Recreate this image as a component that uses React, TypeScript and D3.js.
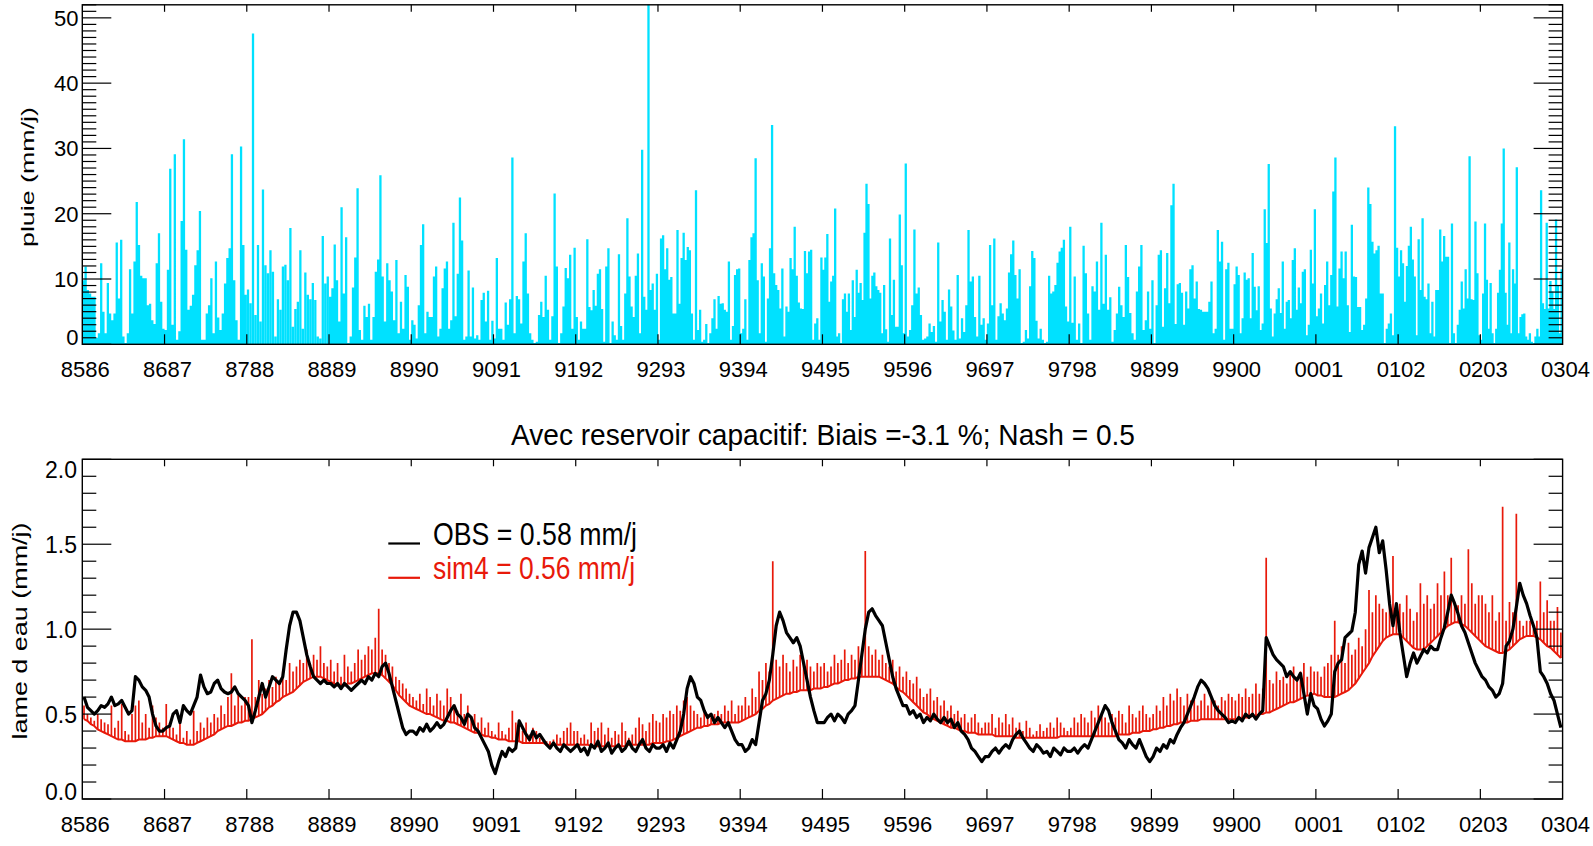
import React, { useEffect, useRef } from "react";
import * as d3 from "d3";

// Hydrological years on the time axis (one tick per year boundary)
const yearLabels = [
  "8586", "8687", "8788", "8889", "8990", "9091", "9192", "9293", "9394", "9495",
  "9596", "9697", "9798", "9899", "9900", "0001", "0102", "0203", "0304",
];

// Rainfall (mm/j): readings spread evenly through each hydrological year
const rain: number[][] = [
  [9.8, 11.9, 8.3, 7.8, 7.3, 7.3, 1, 1.7, 12.4, 5, 1.7, 9.4, 4.7, 3.7, 4.7, 15.6, 7, 16, 1.2, 0.2, 1.7, 11.5, 4.7, 12.7, 21.8, 15.2, 10.5, 10.1, 10.1, 6, 6.2, 3.7, 3.1, 12.4, 17, 6.5, 2.4],
  [2.2, 11.4, 26.9, 3, 29.1, 0.7, 2, 18.9, 31.4, 14.5, 5.3, 5.9, 7.6, 12.1, 14.4, 20.4, 0.7, 0.7, 4.7, 6, 10.1, 1.7, 12.7, 4.1, 2.2, 4.7, 9.3, 13.2, 14.7, 29.1, 9.8, 3.7, 0.7, 30.3, 15.2, 7.6],
  [8.4, 6.3, 47.6, 4.5, 15.2, 3.5, 23.7, 12.1, 10.9, 14.4, 11.1, 1.2, 6.9, 5.3, 11.9, 12.2, 9.8, 17.8, 2.7, 5.4, 6.5, 14.4, 2.4, 11, 7.6, 6.9, 9.4, 6.8, 1.2, 0.9, 16.6, 9.3, 10.4],
  [7.3, 8.6, 15.3, 9.8, 3.5, 21, 7.8, 16.4, 0.2, 1.2, 8.7, 13.3, 23.9, 2.2, 0.7, 5.9, 4.2, 6.2, 0.7, 4.2, 11.1, 13, 25.9, 10.4, 3.5, 12.4, 9.8, 8.1, 3.7, 12.9, 1.7, 6.5, 2.4, 10.6, 8.8, 0.7],
  [3.7, 3, 0.9, 6, 15.2, 18.4, 1.7, 5, 4.2, 4.2, 10.4, 11.9, 1.2, 2.4, 8.6, 11.6, 12.7, 2.4, 3.7, 18.6, 4.3, 10.8, 22.5, 15.9, 0.7, 1.2, 11.3, 1.2, 8.7, 0.9, 1.4, 0.7, 6.8, 7.9, 3.5, 8.2, 0.7, 3.6],
  [0.9, 13.2, 2.4, 2.4, 0.7, 6.4, 3, 6.9, 28.6, 1.7, 7.4, 6.9, 3.2, 12.7, 17, 7.8, 1.7, 0.7, 0.2, 0.4, 4.5, 6.5, 4.2, 10.5, 5.3, 0.7, 4.3, 23.1, 11.9, 0.2, 1.7, 5.8, 11.7, 10.1, 13.7, 2.4, 14.8],
  [4.2, 0.7, 3.5, 2.4, 2.4, 16.1, 5.7, 5.2, 8.3, 5.9, 10.8, 11.5, 5.4, 0.4, 11.9, 14.7, 0.2, 3.5, 1.4, 0.7, 13.8, 2.8, 0.7, 7.8, 19.3, 10.4, 5.8, 4.2, 10.5, 13.9, 1.7, 29.8, 7.3, 5.3, 56, 8.3, 9.3, 5.3, 10.8],
  [0.7, 16.2, 16.7, 11.5, 14.7, 9.9, 10.3, 4.7, 4.7, 17.5, 6.2, 13.2, 17.1, 12.9, 14.9, 14.4, 4.7, 0.7, 23.6, 2.2, 5.3, 0.4, 0.7, 3.1, 0.2, 1.7, 4, 6.9, 2.4, 7.4, 6.2, 6.3, 5.3, 5, 12.7, 0.7, 2.8, 10.6, 11.5, 11.6],
  [1.7, 2.4, 6.9, 0.7, 12.9, 16.4, 17, 28.5, 9.8, 1.7, 12.4, 10.4, 0.4, 7, 14.7, 33.6, 10.9, 9.1, 8.3, 5.5, 11.6, 1.2, 5.8, 5, 13.2, 11.5, 18, 10.5, 6.4, 5.5, 5.4, 14.3, 10.9, 14.2, 14.5, 0.7, 3.2, 4, 0.7, 13.3],
  [11.4, 13.3, 16.9, 6.5, 9.6, 10.5, 20.8, 1.2, 1.7, 0.2, 6.9, 7.8, 5, 7.8, 2.2, 9.8, 4.2, 11.4, 7.9, 9.4, 6.8, 17.1, 24.6, 21.5, 7, 10.5, 11, 8.9, 8.3, 7.9, 1.7, 9.1, 2.3, 0.4, 16.2, 4.5, 9.9, 2.7, 2.7, 19.9, 12.1, 1.7],
  [27.7, 1.2, 2.2, 6, 17.6, 7.8, 8.7, 4.5, 0.7, 0.9, 1.2, 3.2, 1.9, 2.8, 0.4, 15.6, 3.5, 6.8, 5, 0.7, 8.4, 5.8, 2.1, 0.7, 10.6, 0.9, 4, 1.9, 6, 17.5, 9.6, 10.4, 4.2, 1.2, 10.5, 3, 4, 0.7],
  [3.2, 15.2, 6, 16.2, 0.7, 4.3, 6.3, 4.7, 3.7, 5.5, 11, 13.8, 15.9, 10.6, 7, 11.5, 0.2, 0.4, 2.2, 0.9, 8.9, 14.3, 13.2, 3.6, 0.9, 2.4, 0.7, 0.2, 0.4, 10.5, 7.8, 8.1, 9.1, 12.5, 14.2, 14.8, 16, 5.8, 3.5],
  [18, 3.3, 10.4, 0.7, 3.2, 0.2, 15.1, 10.9, 4.7, 0.7, 8.9, 8.1, 12.7, 5.3, 18.6, 6.2, 13.7, 5.3, 7.2, 0.4, 2.2, 4.7, 8.8, 6, 4.2, 15.2, 10.3, 4.8, 1.7, 0.7, 8.1, 11.9, 15.2, 2.2, 3.7, 8.1, 2.4],
  [9.8, 0.2, 6, 13.7, 14.4, 2.7, 8.6, 14, 6.3, 21.3, 24.6, 3.1, 9.2, 9.4, 7.9, 3, 8.1, 5.5, 11.5, 12.1, 7, 9.6, 5.4, 5.3, 5, 5, 5, 6.5, 9.6, 1.7, 2.4, 17.5, 12.7, 15.7, 0.7, 11.5, 12.5, 2.4, 2.4],
  [9.2, 11.9, 10.6, 1.7, 4, 11, 9.9, 10.1, 4, 14, 8.8, 5.2, 8.9, 2.2, 3.2, 20.7, 15.5, 27.6, 5.5, 1.2, 4.7, 6.9, 8.6, 4.8, 12.7, 2.4, 6.5, 6.8, 4, 12.9, 14.7, 5.3, 8.7, 6.3, 11.1, 11.5, 1.4, 3, 14.5, 9.3, 20.7],
  [4.3, 5.5, 7.8, 3.2, 9.1, 12.7, 6, 10.6, 23.4, 28.6, 5.8, 11.6, 14.2, 10.1, 14.2, 6, 1.9, 18.3, 10.4, 10.3, 5.7, 5.7, 2.2, 3, 7, 24, 21.5, 15.7, 13.9, 14.4, 15.1, 7.8, 7.8, 0.2, 2.4, 3.2, 4.7, 1.4, 33.4, 14.8],
  [10.4, 14.4, 12.4, 6.5, 12, 15.1, 18, 13, 10.4, 1.4, 16.1, 8.3, 19.3, 7.3, 6.9, 9.3, 1.7, 6.5, 1.2, 8.3, 8.3, 17.6, 12.7, 16.6, 13.4, 13.4, 0.2, 18.5, 1.7, 0.2, 3, 5.3, 9.6, 5.5, 11.5, 7, 28.8, 6.9, 6.8, 18.8, 10.9, 1.4],
  [0.7, 7.8, 18.5, 9.9, 2.4, 9.4, 1.7, 0.2, 2.4, 7.9, 11.4, 18.5, 30, 7.9, 3, 15.6, 1.7, 11.5, 9.3, 27.1, 1.7, 4.2, 4.6, 4.7, 1.2, 0.7, 1.7, 0.4, 0.2, 1.2, 2.4, 1.2, 23.6, 6.3, 5.4, 18.6, 5.5, 9.7, 8.1, 5.4, 19.1, 9.1, 1.7, 11.5],
];

// Observed runoff (mm/j), 24 readings per year
const obsFlow: number[][] = [
  [0.6, 0.54, 0.52, 0.5, 0.52, 0.55, 0.54, 0.56, 0.6, 0.55, 0.56, 0.58, 0.54, 0.5, 0.52, 0.72, 0.7, 0.66, 0.64, 0.6, 0.5, 0.43, 0.4, 0.4],
  [0.42, 0.43, 0.5, 0.52, 0.45, 0.55, 0.52, 0.5, 0.55, 0.6, 0.73, 0.66, 0.62, 0.63, 0.68, 0.7, 0.65, 0.63, 0.62, 0.63, 0.66, 0.62, 0.6, 0.58],
  [0.55, 0.45, 0.52, 0.6, 0.68, 0.6, 0.66, 0.72, 0.7, 0.68, 0.72, 0.88, 1.02, 1.1, 1.1, 1.05, 0.95, 0.85, 0.78, 0.72, 0.7, 0.68, 0.7, 0.68],
  [0.68, 0.66, 0.68, 0.65, 0.68, 0.66, 0.64, 0.66, 0.68, 0.7, 0.68, 0.72, 0.7, 0.74, 0.72, 0.78, 0.8, 0.74, 0.66, 0.58, 0.5, 0.42, 0.38, 0.4],
  [0.4, 0.38, 0.42, 0.4, 0.44, 0.4, 0.42, 0.45, 0.42, 0.44, 0.48, 0.52, 0.55, 0.5, 0.48, 0.44, 0.5, 0.48, 0.42, 0.4, 0.36, 0.32, 0.28, 0.2],
  [0.15, 0.22, 0.28, 0.25, 0.3, 0.28, 0.3, 0.46, 0.42, 0.38, 0.35, 0.4, 0.36, 0.38, 0.35, 0.32, 0.3, 0.33, 0.3, 0.28, 0.32, 0.3, 0.28, 0.3],
  [0.32, 0.28, 0.3, 0.26, 0.32, 0.3, 0.34, 0.28, 0.3, 0.33, 0.27, 0.3, 0.32, 0.28, 0.3, 0.34, 0.3, 0.28, 0.32, 0.35, 0.3, 0.28, 0.32, 0.3],
  [0.3, 0.32, 0.28, 0.33, 0.3, 0.35, 0.4, 0.5, 0.65, 0.72, 0.68, 0.6, 0.58, 0.52, 0.48, 0.5, 0.45, 0.48, 0.45, 0.42, 0.45, 0.4, 0.35, 0.32],
  [0.32, 0.28, 0.3, 0.35, 0.32, 0.45, 0.58, 0.62, 0.7, 0.85, 1.02, 1.1, 1.05, 0.98, 0.95, 0.92, 0.95, 0.9, 0.8, 0.7, 0.6, 0.52, 0.45, 0.45],
  [0.45, 0.48, 0.5, 0.46, 0.5, 0.48, 0.45, 0.5, 0.52, 0.55, 0.7, 0.85, 1.0, 1.1, 1.12, 1.08, 1.05, 1.02, 0.92, 0.82, 0.72, 0.65, 0.6, 0.55],
  [0.55, 0.5, 0.52, 0.48, 0.5, 0.45, 0.48, 0.46, 0.5, 0.47, 0.45, 0.48, 0.45, 0.47, 0.42, 0.45, 0.4, 0.38, 0.35, 0.3, 0.28, 0.25, 0.22, 0.25],
  [0.25, 0.28, 0.3, 0.27, 0.3, 0.32, 0.3, 0.35, 0.38, 0.4, 0.36, 0.33, 0.3, 0.28, 0.32, 0.3, 0.27, 0.28, 0.25, 0.3, 0.28, 0.26, 0.3, 0.28],
  [0.28, 0.3, 0.27, 0.3, 0.32, 0.3, 0.35, 0.4, 0.45, 0.5, 0.55, 0.52, 0.45, 0.4, 0.35, 0.33, 0.3, 0.35, 0.32, 0.3, 0.35, 0.3, 0.25, 0.22],
  [0.25, 0.3, 0.28, 0.32, 0.3, 0.35, 0.33, 0.38, 0.42, 0.45, 0.5, 0.55, 0.6, 0.66, 0.7, 0.68, 0.65, 0.6, 0.55, 0.52, 0.5, 0.48, 0.45, 0.46],
  [0.45, 0.48, 0.46, 0.5, 0.48, 0.5, 0.47, 0.5, 0.52, 0.95, 0.9, 0.85, 0.82, 0.8, 0.78, 0.72, 0.75, 0.72, 0.7, 0.74, 0.62, 0.5, 0.62, 0.55],
  [0.53, 0.47, 0.43, 0.46, 0.5, 0.75, 0.8, 0.82, 0.95, 0.97, 0.99, 1.1, 1.38, 1.46, 1.33, 1.48, 1.54, 1.6, 1.45, 1.52, 1.35, 1.15, 1.02, 1.15],
  [0.98, 0.85, 0.72, 0.8, 0.86, 0.8, 0.84, 0.88, 0.86, 0.9, 0.88, 0.88, 0.95, 1.01, 1.1, 1.2, 1.15, 1.09, 1.02, 0.98, 0.92, 0.86, 0.8, 0.76],
  [0.72, 0.7, 0.66, 0.64, 0.6, 0.62, 0.68, 0.9, 0.93, 1.0, 1.13, 1.27, 1.2, 1.15, 1.08, 1.02, 0.95, 0.75, 0.72, 0.68, 0.62, 0.58, 0.5, 0.42],
];

// Simulated runoff (mm/j), 24 readings per year: recession floor ...
const simLow: number[][] = [
  [0.47, 0.46, 0.44, 0.43, 0.41, 0.4, 0.39, 0.38, 0.37, 0.36, 0.35, 0.35, 0.34, 0.34, 0.34, 0.34, 0.35, 0.35, 0.35, 0.36, 0.36, 0.37, 0.37, 0.37],
  [0.37, 0.36, 0.35, 0.34, 0.33, 0.33, 0.32, 0.32, 0.32, 0.33, 0.34, 0.35, 0.36, 0.37, 0.38, 0.4, 0.41, 0.42, 0.43, 0.43, 0.44, 0.45, 0.45, 0.46],
  [0.46, 0.47, 0.48, 0.49, 0.5, 0.52, 0.54, 0.55, 0.57, 0.58, 0.6, 0.61, 0.62, 0.63, 0.65, 0.67, 0.69, 0.7, 0.71, 0.72, 0.72, 0.72, 0.71, 0.7],
  [0.69, 0.68, 0.67, 0.67, 0.67, 0.68, 0.68, 0.69, 0.7, 0.71, 0.72, 0.73, 0.74, 0.74, 0.74, 0.73, 0.71, 0.69, 0.67, 0.64, 0.61, 0.59, 0.57, 0.55],
  [0.54, 0.53, 0.52, 0.51, 0.5, 0.5, 0.49, 0.48, 0.47, 0.46, 0.46, 0.45, 0.45, 0.44, 0.43, 0.42, 0.41, 0.4, 0.39, 0.39, 0.38, 0.37, 0.37, 0.36],
  [0.36, 0.35, 0.35, 0.35, 0.34, 0.34, 0.34, 0.34, 0.33, 0.33, 0.33, 0.33, 0.33, 0.33, 0.33, 0.32, 0.32, 0.32, 0.32, 0.32, 0.32, 0.32, 0.32, 0.32],
  [0.32, 0.32, 0.32, 0.32, 0.31, 0.31, 0.31, 0.31, 0.31, 0.31, 0.31, 0.31, 0.31, 0.31, 0.31, 0.32, 0.32, 0.32, 0.32, 0.32, 0.32, 0.32, 0.33, 0.33],
  [0.33, 0.33, 0.34, 0.34, 0.35, 0.36, 0.37, 0.38, 0.39, 0.4, 0.41, 0.42, 0.42, 0.43, 0.43, 0.44, 0.44, 0.44, 0.45, 0.45, 0.45, 0.45, 0.45, 0.45],
  [0.46, 0.47, 0.48, 0.49, 0.5, 0.52, 0.53, 0.55, 0.56, 0.58, 0.59, 0.6, 0.61, 0.62, 0.62, 0.63, 0.63, 0.64, 0.64, 0.64, 0.64, 0.65, 0.65, 0.65],
  [0.66, 0.66, 0.67, 0.68, 0.68, 0.69, 0.7, 0.7, 0.71, 0.71, 0.72, 0.72, 0.72, 0.72, 0.72, 0.72, 0.72, 0.71, 0.7, 0.69, 0.68, 0.66, 0.64, 0.63],
  [0.61, 0.59, 0.57, 0.55, 0.53, 0.51, 0.5, 0.48, 0.47, 0.46, 0.45, 0.44, 0.43, 0.42, 0.42, 0.41, 0.4, 0.4, 0.39, 0.39, 0.39, 0.38, 0.38, 0.38],
  [0.38, 0.38, 0.37, 0.37, 0.37, 0.37, 0.37, 0.37, 0.36, 0.36, 0.36, 0.36, 0.36, 0.36, 0.36, 0.36, 0.36, 0.36, 0.36, 0.36, 0.36, 0.37, 0.37, 0.37],
  [0.37, 0.37, 0.37, 0.37, 0.37, 0.37, 0.37, 0.37, 0.37, 0.37, 0.37, 0.37, 0.37, 0.37, 0.38, 0.38, 0.38, 0.38, 0.39, 0.39, 0.39, 0.4, 0.4, 0.4],
  [0.41, 0.41, 0.42, 0.42, 0.43, 0.43, 0.44, 0.44, 0.45, 0.45, 0.45, 0.46, 0.46, 0.46, 0.47, 0.47, 0.47, 0.47, 0.47, 0.47, 0.47, 0.47, 0.47, 0.47],
  [0.47, 0.47, 0.48, 0.48, 0.48, 0.49, 0.49, 0.5, 0.5, 0.51, 0.51, 0.52, 0.53, 0.54, 0.55, 0.56, 0.57, 0.57, 0.58, 0.59, 0.6, 0.61, 0.61, 0.62],
  [0.61, 0.61, 0.6, 0.6, 0.6, 0.6, 0.61, 0.62, 0.63, 0.64, 0.66, 0.68, 0.71, 0.74, 0.77, 0.8, 0.84, 0.87, 0.9, 0.93, 0.95, 0.96, 0.97, 0.97],
  [0.97, 0.95, 0.93, 0.91, 0.89, 0.88, 0.88, 0.88, 0.9, 0.92, 0.94, 0.96, 0.98, 1.0, 1.02, 1.03, 1.04, 1.04, 1.03, 1.02, 1.0, 0.98, 0.96, 0.94],
  [0.92, 0.9, 0.89, 0.88, 0.87, 0.86, 0.86, 0.87, 0.88, 0.9, 0.92, 0.94, 0.95, 0.96, 0.96, 0.96, 0.95, 0.94, 0.92, 0.9, 0.89, 0.87, 0.85, 0.83],
];
// ... and the peak reached after rain within the same step
const simHigh: number[][] = [
  [0.55, 0.5, 0.48, 0.46, 0.5, 0.47, 0.45, 0.44, 0.55, 0.42, 0.46, 0.56, 0.4, 0.38, 0.5, 0.55, 0.58, 0.45, 0.5, 0.42, 0.55, 0.48, 0.45, 0.42],
  [0.56, 0.45, 0.42, 0.38, 0.48, 0.36, 0.4, 0.35, 0.52, 0.4, 0.45, 0.42, 0.48, 0.45, 0.5, 0.48, 0.55, 0.5, 0.6, 0.74, 0.55, 0.62, 0.55, 0.6],
  [0.6, 0.94, 0.6, 0.7, 0.62, 0.65, 0.7, 0.66, 0.72, 0.68, 0.75, 0.7, 0.8, 0.75, 0.78, 0.82, 0.8, 0.88, 0.8, 0.85, 0.82, 0.9, 0.8, 0.78],
  [0.82, 0.75, 0.8, 0.72, 0.85, 0.78, 0.75, 0.8, 0.88, 0.82, 0.85, 0.9, 0.88, 0.95, 1.12, 0.88, 0.85, 0.8, 0.78, 0.72, 0.7, 0.68, 0.65, 0.62],
  [0.6, 0.58, 0.62, 0.56, 0.65, 0.6, 0.55, 0.62, 0.58, 0.55, 0.65, 0.6, 0.55, 0.52, 0.62, 0.5, 0.55, 0.48, 0.5, 0.45, 0.48, 0.42, 0.45, 0.4],
  [0.38, 0.45, 0.4, 0.38, 0.42, 0.52, 0.45, 0.42, 0.4, 0.45, 0.38, 0.42, 0.4, 0.36, 0.35, 0.34, 0.34, 0.35, 0.38, 0.36, 0.4, 0.42, 0.45, 0.4],
  [0.4, 0.36, 0.38, 0.35, 0.45, 0.4, 0.42, 0.45, 0.38, 0.42, 0.36, 0.4, 0.38, 0.45, 0.4, 0.36, 0.38, 0.42, 0.48, 0.44, 0.4, 0.45, 0.5, 0.46],
  [0.45, 0.5, 0.48, 0.52, 0.5, 0.55, 0.52, 0.58, 0.6, 0.55, 0.52, 0.5, 0.48, 0.52, 0.5, 0.48, 0.5, 0.52, 0.5, 0.55, 0.52, 0.58, 0.5, 0.55],
  [0.55, 0.6, 0.55, 0.65, 0.6, 0.75, 0.7, 0.8, 0.75, 1.4, 0.82, 0.78, 0.85, 0.8, 0.75, 0.82, 0.78, 0.85, 0.8, 0.82, 0.78, 0.75, 0.8, 0.78],
  [0.8, 0.75, 0.78, 0.85, 0.8, 0.82, 0.88, 0.8, 0.85, 0.82, 0.9, 0.85, 1.46, 0.9, 0.85, 0.88, 0.82, 0.85, 0.8, 0.78, 0.82, 0.75, 0.78, 0.72],
  [0.75, 0.7, 0.68, 0.72, 0.65, 0.6, 0.62, 0.65, 0.58, 0.6, 0.55, 0.58, 0.52, 0.55, 0.5, 0.52, 0.48, 0.5, 0.45, 0.48, 0.5, 0.45, 0.42, 0.45],
  [0.45, 0.5, 0.42, 0.48, 0.45, 0.5, 0.44, 0.48, 0.42, 0.45, 0.4, 0.46, 0.42, 0.38, 0.4, 0.44, 0.4, 0.42, 0.45, 0.42, 0.48, 0.45, 0.42, 0.4],
  [0.42, 0.48, 0.45, 0.5, 0.48, 0.45, 0.52, 0.48, 0.55, 0.5, 0.48, 0.45, 0.5, 0.48, 0.52, 0.5, 0.45, 0.55, 0.5, 0.48, 0.52, 0.55, 0.5, 0.48],
  [0.5, 0.55, 0.52, 0.6, 0.55, 0.62, 0.58, 0.65, 0.6, 0.55, 0.62, 0.58, 0.6, 0.55, 0.58, 0.62, 0.55, 0.6, 0.58, 0.55, 0.6, 0.58, 0.62, 0.6],
  [0.58, 0.62, 0.6, 0.65, 0.6, 0.62, 0.68, 0.62, 0.65, 1.42, 0.7, 0.68, 0.75, 0.7, 0.72, 0.68, 0.75, 0.78, 0.72, 0.75, 0.8, 0.72, 0.78, 0.75],
  [0.75, 0.72, 0.78, 0.8, 0.85, 1.05, 0.85, 0.9, 0.8, 0.92, 0.85, 0.88, 0.95, 0.9, 1.0, 1.23, 1.1, 1.2, 1.15, 1.12, 1.1, 1.2, 1.43, 1.15],
  [1.15, 1.1, 1.2, 1.12, 1.05, 1.1, 1.27, 1.15, 1.2, 1.12, 1.15, 1.27, 1.2, 1.34, 1.2, 1.42, 1.15, 1.14, 1.2, 1.15, 1.47, 1.27, 1.15, 1.2],
  [1.2, 1.15, 1.1, 1.2, 1.05, 1.1, 1.72, 1.05, 1.16, 1.1, 1.68, 1.05, 1.02, 1.05, 1.05, 1.0, 1.05, 1.28, 1.1, 1.17, 1.05, 1.05, 1.13, 0.98],
];

const rainTicks = [0, 10, 20, 30, 40, 50];
const flowTicks = [0, 0.5, 1, 1.5, 2];
const flowTickLabels = ["0.0", "0.5", "1.0", "1.5", "2.0"];
const titleText = "Avec reservoir capacitif: Biais =-3.1 %; Nash = 0.5";
const legendLabels = ["OBS = 0.58 mm/j", "sim4 = 0.56 mm/j"];
const legendColors = ["#000000", "#e8190a"];

const FONT = "'Liberation Sans', Arial, Helvetica, sans-serif";
const RAIN_COLOR = "#00e1ff";
const SIM_COLOR = "#e8190a";

type Pt = { t: number; v: number };

// place each year's readings evenly inside that year
const spreadYears = (years: number[][]): Pt[] =>
  years.flatMap((vals, yi) => vals.map((v, i) => ({ t: yi + (i + 0.5) / vals.length, v })));

export default function App() {
  const ref = useRef<SVGSVGElement>(null);

  useEffect(() => {
    const svg = d3.select(ref.current);
    svg.selectAll("*").remove();

    const x = d3.scaleLinear().domain([0, 18]).range([82.3, 1562.6]);
    const yR = d3.scaleLinear().domain([0, 52]).range([344.3, 4.8]);
    const yQ = d3.scaleLinear().domain([0, 2]).range([799, 459.3]);
    const [xl, xr] = x.range();

    const defs = svg.append("defs");
    const clip = (id: string, y0: number, y1: number) =>
      defs.append("clipPath").attr("id", id).append("rect")
        .attr("x", xl).attr("y", y0).attr("width", xr - xl).attr("height", y1 - y0);
    clip("clipRain", yR(52), yR(0));
    clip("clipFlow", yQ(2), yQ(0));

    // ---------- rainfall panel: one vertical stroke per reading ----------
    const rainPts = spreadYears(rain);
    svg.append("path")
      .attr("clip-path", "url(#clipRain)")
      .attr("d", rainPts.map((d) => `M${x(d.t)},${yR(0)}V${yR(d.v)}`).join(""))
      .attr("fill", "none")
      .attr("stroke", RAIN_COLOR)
      .attr("stroke-width", 2.3);

    // ---------- runoff panel ----------
    const lowPts = spreadYears(simLow);
    const highPts = spreadYears(simHigh);
    const flowLine = d3.line<Pt>().x((d) => x(d.t)).y((d) => yQ(d.v));
    const simG = svg.append("g").attr("clip-path", "url(#clipFlow)");
    simG.append("path")
      .attr("d", highPts.map((d, i) => `M${x(d.t)},${yQ(lowPts[i].v)}V${yQ(d.v)}`).join(""))
      .attr("fill", "none")
      .attr("stroke", SIM_COLOR)
      .attr("stroke-width", 1.7);
    simG.append("path")
      .attr("d", flowLine(lowPts))
      .attr("fill", "none")
      .attr("stroke", SIM_COLOR)
      .attr("stroke-width", 2);

    svg.append("path")
      .attr("clip-path", "url(#clipFlow)")
      .attr("d", flowLine(spreadYears(obsFlow)))
      .attr("fill", "none")
      .attr("stroke", "#000")
      .attr("stroke-width", 3.2)
      .attr("stroke-linejoin", "round");

    // ---------- frames and ticks ----------
    const frame = (y0: number, y1: number) =>
      svg.append("rect").attr("x", xl).attr("y", y0).attr("width", xr - xl).attr("height", y1 - y0)
        .attr("fill", "none").attr("stroke", "#000").attr("stroke-width", 1.4);

    const drawYTicks = (
      scale: d3.ScaleLinear<number, number>,
      minor: number[],
      major: number[]
    ) => {
      const g = svg.append("g").attr("stroke", "#000").attr("stroke-width", 1.2);
      const put = (vals: number[], len: number) => {
        g.selectAll(null).data(vals).enter().append("line")
          .attr("x1", xl).attr("x2", xl + len)
          .attr("y1", (d) => scale(d)).attr("y2", (d) => scale(d));
        g.selectAll(null).data(vals).enter().append("line")
          .attr("x1", xr).attr("x2", xr - len)
          .attr("y1", (d) => scale(d)).attr("y2", (d) => scale(d));
      };
      put(minor, 14);
      put(major, 29);
    };

    const drawXTicks = (yTop: number, yBot: number, labelBaseline: number) => {
      const yrs = d3.range(1, 18);
      const g = svg.append("g").attr("stroke", "#000").attr("stroke-width", 1.2);
      g.selectAll(null).data(yrs).enter().append("line")
        .attr("x1", (d) => x(d)).attr("x2", (d) => x(d))
        .attr("y1", yTop).attr("y2", yTop + 7);
      g.selectAll(null).data(yrs).enter().append("line")
        .attr("x1", (d) => x(d)).attr("x2", (d) => x(d))
        .attr("y1", yBot).attr("y2", yBot - 10);
      svg.append("g").selectAll(null).data(yearLabels).enter().append("text")
        .attr("x", (_d, i) => x(i) + 3)
        .attr("y", labelBaseline)
        .attr("text-anchor", "middle")
        .attr("font-family", FONT)
        .attr("font-size", 22)
        .attr("fill", "#000")
        .text((d) => d);
    };

    // rainfall frame
    frame(yR(52), yR(0));
    const rainMinor = d3.range(0, 53).filter((v) => v % 10 !== 0);
    drawYTicks(yR, rainMinor, rainTicks);
    drawXTicks(yR(52), yR(0), 377);
    svg.append("g").selectAll(null).data(rainTicks).enter().append("text")
      .attr("x", 78.5)
      .attr("y", (d) => (d === 0 ? 345 : yR(d) + 8))
      .attr("text-anchor", "end")
      .attr("font-family", FONT)
      .attr("font-size", 22)
      .text((d) => String(d));
    svg.append("text")
      .attr("transform", `translate(34,177) rotate(-90)`)
      .attr("text-anchor", "middle")
      .attr("font-family", FONT)
      .attr("font-size", 19)
      .attr("textLength", 140)
      .attr("lengthAdjust", "spacingAndGlyphs")
      .text("pluie (mm/j)");

    // runoff frame
    frame(yQ(2), yQ(0));
    const flowMinor = d3.range(0, 21).filter((k) => k % 5 !== 0).map((k) => k / 10);
    drawYTicks(yQ, flowMinor, flowTicks);
    drawXTicks(yQ(2), yQ(0), 832);
    svg.append("g").selectAll(null).data(flowTicks).enter().append("text")
      .attr("x", 77)
      .attr("y", (d) => (d === 2 ? yQ(d) + 18.5 : d === 0 ? yQ(d) + 0.5 : yQ(d) + 8.5))
      .attr("text-anchor", "end")
      .attr("font-family", FONT)
      .attr("font-size", 23)
      .text((_d, i) => flowTickLabels[i]);
    svg.append("text")
      .attr("transform", `translate(26.5,631) rotate(-90)`)
      .attr("text-anchor", "middle")
      .attr("font-family", FONT)
      .attr("font-size", 20)
      .attr("textLength", 217)
      .attr("lengthAdjust", "spacingAndGlyphs")
      .text("lame d eau (mm/j)");

    // title
    svg.append("text")
      .attr("x", 823)
      .attr("y", 445)
      .attr("text-anchor", "middle")
      .attr("font-family", FONT)
      .attr("font-size", 30)
      .attr("textLength", 624)
      .attr("lengthAdjust", "spacingAndGlyphs")
      .text(titleText);

    // legend
    const leg = svg.append("g");
    legendLabels.forEach((label, i) => {
      const yb = [545, 579.3][i];
      leg.append("line")
        .attr("x1", 388.3).attr("x2", 420)
        .attr("y1", yb - 1.5).attr("y2", yb - 1.5)
        .attr("stroke", legendColors[i]).attr("stroke-width", 2.2);
      leg.append("text")
        .attr("x", 433)
        .attr("y", yb)
        .attr("font-family", FONT)
        .attr("font-size", 32)
        .attr("textLength", i === 0 ? 204 : 202)
        .attr("lengthAdjust", "spacingAndGlyphs")
        .attr("fill", legendColors[i])
        .text(label);
    });
  }, []);

  return (
    <svg
      ref={ref}
      width={1593}
      height={846}
      style={{ position: "absolute", left: 0, top: 0, background: "#fff" }}
    />
  );
}
